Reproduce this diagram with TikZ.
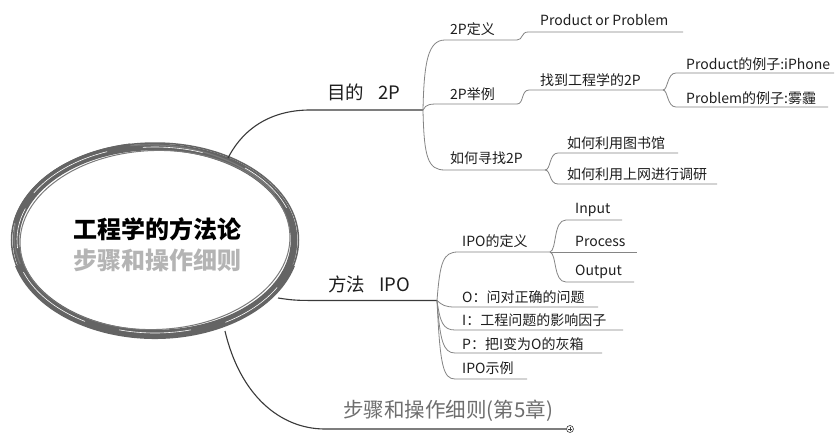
\documentclass[tikz,border=0pt]{standalone}
\usepackage{fontspec}
\setmainfont{Noto Sans CJK SC}
\definecolor{lineDark}{HTML}{3A3A3A}
\definecolor{lineSub}{HTML}{858585}
\definecolor{txtDark}{HTML}{1E1E1E}
\definecolor{txtGray}{HTML}{6E6E6E}
\definecolor{titleGray}{HTML}{B4B4B4}
\definecolor{brushC}{HTML}{646464}
\definecolor{brushL}{HTML}{7A7A7A}
\begin{document}
\begin{tikzpicture}[x=1pt,y=-1pt,
  mainline/.style={draw=lineDark, line width=1.1pt},
  subline/.style={draw=lineSub, line width=0.8pt},
  lab/.style={anchor=west, inner sep=0pt, font=\fontsize{14}{16}\selectfont, text=txtDark},
  big/.style={anchor=west, inner sep=0pt, font=\fontsize{18.5}{20}\selectfont, text=txtDark},
  ring/.style={draw=brushC},
  streak/.style={draw=white, line width=0.6pt}]
\useasboundingbox[fill=white] (0,0) rectangle (835,432);

% ---- brush ellipse ----
\coordinate (c) at (155,240);
\draw[ring, line width=6.5pt] (c) ellipse[x radius=139pt, y radius=93pt];
\draw[ring, line width=1.5pt] (c) ellipse[x radius=143.5pt, y radius=97pt];
\draw[draw=brushL, line width=1.2pt, rotate around={-3:(c)}] (c) ellipse[x radius=141pt, y radius=95pt];
\draw[draw=brushL, line width=1pt, rotate around={2:(c)}] (c) ellipse[x radius=135pt, y radius=89.5pt];
\draw[ring, line width=8pt] ([shift={(195:141pt and 95pt)}]c) arc[start angle=195, end angle=345, x radius=141pt, y radius=95pt];
\draw[ring, line width=4pt] ([shift={(100:142pt and 96pt)}]c) arc[start angle=100, end angle=170, x radius=142pt, y radius=96pt];
\draw[ring, line width=4pt] ([shift={(-15:140pt and 94pt)}]c) arc[start angle=-15, end angle=30, x radius=140pt, y radius=94pt];
\draw[streak] ([shift={(200:140pt and 94pt)}]c) arc[start angle=200, end angle=240, x radius=140pt, y radius=94pt];
\draw[streak] ([shift={(255:139pt and 93pt)}]c) arc[start angle=255, end angle=285, x radius=139pt, y radius=93pt];
\draw[streak] ([shift={(300:141pt and 95pt)}]c) arc[start angle=300, end angle=330, x radius=141pt, y radius=95pt];
\draw[streak] ([shift={(70:139pt and 93pt)}]c) arc[start angle=70, end angle=95, x radius=139pt, y radius=93pt];
\draw[streak] ([shift={(110:140pt and 94pt)}]c) arc[start angle=110, end angle=150, x radius=140pt, y radius=94pt];
\draw[streak] ([shift={(160:138pt and 92pt)}]c) arc[start angle=160, end angle=185, x radius=138pt, y radius=92pt];
\draw[streak] ([shift={(20:140pt and 94pt)}]c) arc[start angle=20, end angle=50, x radius=140pt, y radius=94pt];

\node[inner sep=0pt, font=\fontsize{24}{26}\selectfont\bfseries, text=black] (t1) at (157,229) {工程学的方法论};
\node[inner sep=0pt, font=\fontsize{24}{26}\selectfont\bfseries, text=titleGray] (t2) at (157,260) {步骤和操作细则};

% ---- branch 1: 目的 2P ----
\coordinate (m1s) at (228,158);
\coordinate (m1a) at (310,110);
\coordinate (f1) at (423,110);
\draw[mainline] (m1s) .. controls (245,125) and (275,110) .. (m1a) -- (f1);
\node[big] (n1) at (327,92) {目的\hspace{0.75em}2P};

\coordinate (d1s) at (445,40); \coordinate (d1e) at (517,40);
\draw[subline] (f1) .. controls (424,62) and (428,40) .. (d1s) -- (d1e);
\node[lab] (d1) at (450,29) {2P定义};
\coordinate (p1s) at (528,32); \coordinate (p1e) at (683,32);
\draw[subline] (d1e) .. controls (523,40) and (521,32) .. (p1s) -- (p1e);
\node[lab] (p1) at (540,20) {Product or Problem};

\coordinate (d2s) at (440,104); \coordinate (d2e) at (517,104);
\draw[subline] (f1) .. controls (426,104) and (430,104) .. (d2s) -- (d2e);
\node[lab] (d2) at (450,94) {2P举例};
\coordinate (z1s) at (529,90); \coordinate (z1e) at (663,90);
\draw[subline] (d2e) .. controls (524,104) and (521,90) .. (z1s) -- (z1e);
\node[lab] (z1) at (540,80) {找到工程学的2P};
\coordinate (e1s) at (676,73); \coordinate (e1e) at (834,73);
\draw[subline] (z1e) .. controls (668,90) and (667,73) .. (e1s) -- (e1e);
\node[lab] (e1) at (686,64) {Product的例子:iPhone};
\coordinate (e2s) at (676,107); \coordinate (e2e) at (828,107);
\draw[subline] (z1e) .. controls (668,90) and (667,107) .. (e2s) -- (e2e);
\node[lab] (e2) at (686,98) {Problem的例子:雾霾};

\coordinate (d3s) at (445,170); \coordinate (d3e) at (545,170);
\draw[subline] (f1) .. controls (424,158) and (428,170) .. (d3s) -- (d3e);
\node[lab] (d3) at (450,158) {如何寻找2P};
\coordinate (h1s) at (558,153); \coordinate (h1e) at (678,153);
\draw[subline] (d3e) .. controls (551,170) and (549,153) .. (h1s) -- (h1e);
\node[lab] (h1) at (567,143) {如何利用图书馆};
\coordinate (h2s) at (558,184); \coordinate (h2e) at (717,184);
\draw[subline] (d3e) .. controls (551,170) and (549,184) .. (h2s) -- (h2e);
\node[lab] (h2) at (567,174) {如何利用上网进行调研};

% ---- branch 2: 方法 IPO ----
\coordinate (m2s) at (278,298);
\coordinate (m2a) at (330,300.5);
\coordinate (f2) at (437,300.5);
\draw[mainline] (m2s) .. controls (295,300.5) .. (m2a) -- (f2);
\node[big] (n2) at (328,284) {方法\hspace{0.75em}IPO};

\coordinate (i0s) at (458,252); \coordinate (i0e) at (550,252);
\draw[subline] (f2) .. controls (440,262) and (443,252) .. (i0s) -- (i0e);
\node[lab] (i0) at (462,241) {IPO的定义};
\coordinate (ins) at (566,220); \coordinate (ine) at (622,220);
\draw[subline] (i0e) .. controls (557,250) and (553,220) .. (ins) -- (ine);
\node[lab] (in) at (575,210) {Input};
\coordinate (pre) at (637,252);
\draw[subline] (i0e) -- (pre);
\node[lab] (pr) at (575,241) {Process};
\coordinate (ous) at (566,282); \coordinate (oue) at (634,282);
\draw[subline] (i0e) .. controls (557,254) and (553,282) .. (ous) -- (oue);
\node[lab] (ou) at (575,272) {Output};

\coordinate (o1s) at (455,307); \coordinate (o1e) at (598,307);
\draw[subline] (f2) .. controls (442,305) and (445,307) .. (o1s) -- (o1e);
\node[lab] (o1) at (462,297) {O：问对正确的问题};
\coordinate (o2s) at (455,330); \coordinate (o2e) at (623,330);
\draw[subline] (f2) .. controls (440,322) and (443,330) .. (o2s) -- (o2e);
\node[lab] (o2) at (462,320) {I：工程问题的影响因子};
\coordinate (o3s) at (455,353); \coordinate (o3e) at (602,353);
\draw[subline] (f2) .. controls (440,340) and (443,353) .. (o3s) -- (o3e);
\node[lab] (o3) at (462,344) {P：把I变为O的灰箱};
\coordinate (o4s) at (455,379); \coordinate (o4e) at (527,379);
\draw[subline] (f2) .. controls (440,365) and (443,379) .. (o4s) -- (o4e);
\node[lab] (o4) at (462,368) {IPO示例};

% ---- branch 3 ----
\coordinate (m3s) at (225,331);
\coordinate (m3a) at (325,429);
\node[circle, draw=lineDark, line width=0.6pt, minimum size=7pt, inner sep=0pt] (plus) at (570,429) {};
\draw[lineDark, line width=0.6pt] ([xshift=-2pt]plus.center) -- ([xshift=2pt]plus.center);
\draw[lineDark, line width=0.6pt] ([yshift=-2pt]plus.center) -- ([yshift=2pt]plus.center);
\draw[mainline] (m3s) .. controls (240,395) and (280,429) .. (m3a) -- (plus.west);
\node[big, font=\fontsize{20.5}{22}\selectfont, text=txtGray] (n3) at (343,411) {步骤和操作细则(第5章)};
\end{tikzpicture}
\end{document}
